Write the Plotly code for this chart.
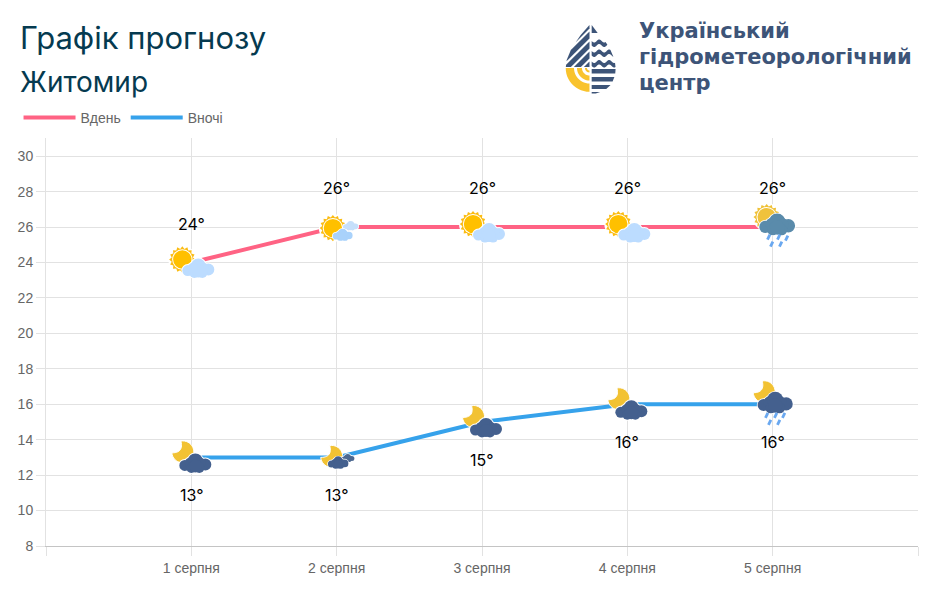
import math
import numpy as np
import plotly.graph_objects as go

categories = ["", "1 серпня", "2 серпня", "3 серпня", "4 серпня", "5 серпня", ""]
x_positions = [0, 1, 2, 3, 4, 5, 6]
point_x = [1, 2, 3, 4, 5]
day_values = [24, 26, 26, 26, 26]
night_values = [13, 13, 15, 16, 16]
day_icons = ["sun_cloud", "sun_small", "sun_cloud", "sun_cloud", "sun_rain"]
night_icons = ["moon_cloud", "moon_small", "moon_cloud", "moon_cloud", "moon_rain"]
y_ticks = [8, 10, 12, 14, 16, 18, 20, 22, 24, 26, 28, 30]

W, H = 933, 615
L, R, T, B = 45.5, 918.5, 138, 546
FONT_H = "Inter"
FONT_L = "DejaVu Sans"
FONT_T = "Liberation Sans"
DARK = "#053a50"
LOGO = "#3d5478"
YEL = "#f9c32d"

shapes = []


def anchored(x, y):
    return dict(xref="x", yref="y", xsizemode="pixel", ysizemode="pixel",
                xanchor=x, yanchor=y, layer="above")


def circle(x, y, dx, dy, r, color):
    shapes.append(dict(type="circle", x0=dx - r, x1=dx + r, y0=dy - r, y1=dy + r,
                       fillcolor=color, line_width=0, **anchored(x, y)))


def poly(x, y, pts, color, edge=None, ew=0):
    path = "M" + "L".join(f"{a:.2f},{b:.2f}" for a, b in pts) + "Z"
    shapes.append(dict(type="path", path=path, fillcolor=color,
                       line=dict(color=edge or color, width=ew), **anchored(x, y)))


def stroke(x, y, a, b, color, w):
    path = f"M{a[0]:.2f},{a[1]:.2f}L{b[0]:.2f},{b[1]:.2f}"
    shapes.append(dict(type="path", path=path,
                       line=dict(color=color, width=w), **anchored(x, y)))


CLOUD = [(-10.5, -2.5, 5.5), (-5, 0, 5.5), (0, 2, 7.5), (10, -1.5, 6), (5.5, 0, 5), (-4, -5, 5), (4, -5, 5), (0, -3, 6.5)]


def cloud(x, y, cx, cy, s, color, halo=1.0):
    for a, b, r in CLOUD:
        circle(x, y, cx + a * s, cy + b * s, r * s + halo, "white")
    for a, b, r in CLOUD:
        circle(x, y, cx + a * s, cy + b * s, r * s, color)


def sun(x, y, dx, dy, spike="#fbbc12", rim="white", core="#ffc000"):
    circle(x, y, dx, dy, 14, "white")
    pts = []
    for i in range(32):
        r = 13.2 if i % 2 == 0 else 10.8
        t = math.pi * i / 16
        pts.append((dx + r * math.cos(t), dy + r * math.sin(t)))
    poly(x, y, pts, spike)
    circle(x, y, dx, dy, 10.2, rim)
    circle(x, y, dx, dy, 9.2, core)


def moon(x, y, dx, dy, color="#f2c233"):
    r = 11
    outer = [(dx + r * math.cos(math.radians(a)), dy + r * math.sin(math.radians(a)))
             for a in np.linspace(100, -175, 30)]
    p0, p2 = outer[-1], outer[0]
    ctrl = (dx + 1, dy - 1)
    inner = [((1 - t) ** 2 * p0[0] + 2 * t * (1 - t) * ctrl[0] + t ** 2 * p2[0],
              (1 - t) ** 2 * p0[1] + 2 * t * (1 - t) * ctrl[1] + t ** 2 * p2[1])
             for t in np.linspace(0, 1, 14)]
    poly(x, y, outer + inner, color, "white", 1.0)


def rain(x, y, drops, color="#6aa8f0"):
    for dx, dy in drops:
        stroke(x, y, (dx + 1.2, dy + 2.5), (dx - 1.2, dy - 2.5), color, 2.8)


def icon(kind, x, y):
    if kind == "sun_cloud":
        sun(x, y, -9, 3)
        cloud(x, y, 7, -5.5, 1.0, "#bcdcff")
    elif kind == "sun_small":
        sun(x, y, -3.8, -1)
        cloud(x, y, 14, 1.5, 0.48, "#c6dffb", 0.7)
        cloud(x, y, 6, -7.5, 0.62, "#a9d2fb", 0.7)
    elif kind == "sun_rain":
        sun(x, y, -6, 10, "#efc136", "white", "#f0c23c")
        cloud(x, y, 4.5, 3, 1.12, "#5a8bab", 0.8)
        rain(x, y, [(-4, -10), (6, -10), (14, -11), (-1, -17), (8, -17)])
    elif kind == "moon_cloud":
        moon(x, y, -8.5, 5.5)
        cloud(x, y, 4, -5.5, 1.0, "#44608e")
    elif kind == "moon_small":
        moon(x, y, -5, 1)
        cloud(x, y, 11, -0.5, 0.42, "#4c6890", 0.7)
        cloud(x, y, 1.5, -5, 0.64, "#44608e", 0.7)
    elif kind == "moon_rain":
        moon(x, y, -8.5, 12.5)
        cloud(x, y, 2.5, 2, 1.1, "#44608e", 0.8)
        rain(x, y, [(-6, -11), (3, -11), (11, -11), (-3, -18), (6, -18)])


# ---- logo -----------------------------------------------------------------
def px(x, y):
    return (x - L) / (R - L), (B - y) / (B - T)


def logo_poly(pts, color):
    path = "M" + "L".join("{:.5f},{:.5f}".format(*px(a, b)) for a, b in pts) + "Z"
    shapes.append(dict(type="path", xref="paper", yref="paper", path=path,
                       fillcolor=color, line_width=0, layer="above"))


CX = 590.8
drop = [(CX, 23.5), (CX + 10, 35), (CX + 19, 48), (CX + 24, 60), (CX + 25, 68), (CX + 24.5, 75),
        (CX + 21, 84), (CX + 14, 90.5), (CX + 5, 93.5), (CX - 5, 93.5), (CX - 14, 90.5),
        (CX - 21, 84), (CX - 24.5, 75), (CX - 25, 68), (CX - 24, 60), (CX - 19, 48), (CX - 10, 35)]


def clip(subject, clipper):
    out = subject
    n = len(clipper)
    for i in range(n):
        a, b = clipper[i], clipper[(i + 1) % n]
        inp, out = out, []

        def inside(p):
            return (b[0] - a[0]) * (p[1] - a[1]) - (b[1] - a[1]) * (p[0] - a[0]) >= 0

        for j in range(len(inp)):
            p, q = inp[j - 1], inp[j]
            ip, iq = inside(p), inside(q)
            if ip != iq:
                t = ((a[0] - p[0]) * (b[1] - a[1]) - (a[1] - p[1]) * (b[0] - a[0])) / (
                    (q[0] - p[0]) * (b[1] - a[1]) - (q[1] - p[1]) * (b[0] - a[0]))
                out.append((p[0] + t * (q[0] - p[0]), p[1] + t * (q[1] - p[1])))
            if iq:
                out.append(q)
        if not out:
            return out
    return out


# diagonal stripes, left half
for v0 in (0.2, 10.2, 20.2, 30.2, 40.2):
    v1 = v0 + 7
    yb = 67
    band = [(CX - 1.2, 20 + v0 + 1.2), (CX - 1.2, 20 + v1 + 1.2), (CX - 40, 20 + v1 + 40), (CX - 40, 20 + v0 + 40)]
    band = clip(band, [(CX - 1.2, 0), (CX - 1.2, yb), (CX - 60, yb), (CX - 60, 0)])
    if band:
        band = clip(band, drop)
    if band:
        logo_poly(band, LOGO)

# yellow quarter rings
for r0, r1 in ((15.5, 23.8), (7.5, 12.5), (2.5, 4.5)):
    a = [(CX - 1.2 - r1 * math.cos(t), 68 + r1 * math.sin(t)) for t in np.linspace(0, math.pi / 2, 14)]
    b = [(CX - 1.2 - r0 * math.cos(t), 68 + r0 * math.sin(t)) for t in np.linspace(math.pi / 2, 0, 14)]
    logo_poly(a + b, YEL)

# right half: top sail, waves, straight stripes
RX = CX + 1
logo_poly([(RX, 25), (RX, 33), (RX + 6, 33)], LOGO)
for ytop, hgt, amp in ((41, 4.5, 1.6), (51, 4.5, 1.6), (61.5, 4.5, 1.6)):
    xs = np.linspace(RX, RX + 30, 40)
    off = amp * np.sin((xs - RX) * 2 * math.pi / 10)
    top = [(xv, ytop + o) for xv, o in zip(xs, off)]
    bottom = [(xv, ytop + hgt + o) for xv, o in zip(xs, off)][::-1]
    sub = clip(top + bottom, drop)
    if sub:
        logo_poly(sub, LOGO)
for y0, y1 in ((69, 73.5), (77, 81.5), (85, 89), (92, 95)):
    sub = clip([(RX, y0), (RX + 30, y0), (RX + 30, y1), (RX, y1)], drop)
    if sub:
        logo_poly(sub, LOGO)

# ---- figure ---------------------------------------------------------------
fig = go.Figure()
fig.add_trace(go.Scatter(x=point_x, y=day_values, name="Вдень", mode="lines",
                         line=dict(color="#ff6384", width=4)))
fig.add_trace(go.Scatter(x=point_x, y=night_values, name="Вночі", mode="lines",
                         line=dict(color="#36a2eb", width=4)))

for kind, xv, yv in zip(day_icons, point_x, day_values):
    icon(kind, xv, yv)
for kind, xv, yv in zip(night_icons, point_x, night_values):
    icon(kind, xv, yv)

annotations = []
for xv, yv in zip(point_x, day_values):
    annotations.append(dict(x=xv, y=yv, text=f"{yv}°", showarrow=False, yshift=39,
                            font=dict(family=FONT_H, size=16, color="black")))
for xv, yv in zip(point_x, night_values):
    annotations.append(dict(x=xv, y=yv, text=f"{yv}°", showarrow=False, yshift=-38,
                            font=dict(family=FONT_H, size=16, color="black")))


def label(text, x, y, size, color, weight="normal", family=FONT_H):
    xp, yp = px(x, y)
    annotations.append(dict(xref="paper", yref="paper", x=xp, y=yp, text=text, showarrow=False,
                            xanchor="left", yanchor="middle",
                            font=dict(family=family, size=size, color=color, weight=weight)))


label("Житомир", 17, 82, 28, DARK)
label("Український", 637, 30.5, 21, LOGO, 700, FONT_L)
label("гідрометеорологічний", 637, 57, 21, LOGO, 700, FONT_L)
label("центр", 637, 83, 21, LOGO, 700, FONT_L)

lx, ly = px(18, 118)
fig.update_layout(
    width=W, height=H,
    margin=dict(l=L, r=W - R, t=T, b=H - B, pad=0, autoexpand=False),
    paper_bgcolor="white", plot_bgcolor="white",
    title=dict(text="Графік прогнозу", x=20 / W, xanchor="left", xref="container",
               y=1 - 38 / H, yanchor="middle", yref="container",
               font=dict(family=FONT_H, size=31, color=DARK)),
    showlegend=True,
    legend=dict(orientation="h", xref="paper", yref="paper", x=lx, y=ly,
                xanchor="left", yanchor="middle", itemwidth=52, itemclick=False,
                font=dict(family=FONT_T, size=14, color="#666666"), bgcolor="rgba(0,0,0,0)",
                traceorder="normal"),
    xaxis=dict(range=[0, 6], tickmode="array", tickvals=x_positions, ticktext=categories,
               showgrid=True, gridcolor="#e2e2e2", gridwidth=1, zeroline=False,
               showline=True, linecolor="#c4c4c4", linewidth=1,
               ticks="outside", ticklen=9, tickcolor="#e2e2e2",
               tickfont=dict(family=FONT_T, size=14, color="#666666")),
    yaxis=dict(range=[8, 31.03], tickmode="array", tickvals=y_ticks,
               showgrid=True, gridcolor="#e2e2e2", gridwidth=1, zeroline=False,
               showline=True, linecolor="#e2e2e2", linewidth=1,
               ticks="outside", ticklen=9, tickcolor="#e2e2e2",
               tickfont=dict(family=FONT_T, size=14, color="#666666")),
    shapes=shapes,
    annotations=annotations,
)
fig.write_html("out.html", post_script="document.body.style.margin='0';",
               config={"displayModeBar": False})
